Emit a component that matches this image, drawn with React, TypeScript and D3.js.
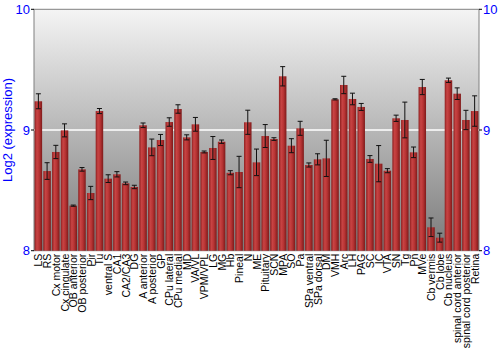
import React from "react";
import * as d3 from "d3";

const categories = ["LS","RS","Cx motor","Cx cingulate","OB anterior","OB posterior","Pir","Tu","ventral S","CA1","CA2/CA3","DG","A anterior","A posterior","GP","CPu lateral","CPu medial","MD","VA/VL","VPM/VPL","LG","MG","Hb","Pineal","N","ME","Pituitary","SCN","MPA","SO","Pa","SPa ventral","SPa dorsal","DM","VMH","Arc","LH","PAG","SC","IC","VTA","SN","Tg","Pn","MVe","Cb vermis","Cb lobe","Cb nucleus","spinal cord anterior","spinal cord posterior","Retina"];

const values = [9.238,8.66,8.818,8.997,8.373,8.674,8.478,9.157,8.597,8.633,8.558,8.528,9.039,8.856,8.917,9.066,9.174,8.939,9.047,8.818,8.851,8.903,8.646,8.652,9.064,8.732,8.95,8.925,9.445,8.87,9.014,8.71,8.757,8.765,9.254,9.373,9.257,9.191,8.76,8.721,8.663,9.097,9.083,8.815,9.356,8.194,8.108,9.412,9.301,9.083,9.157];

const errors = [0.062,0.069,0.055,0.054,0.005,0.015,0.055,0.021,0.032,0.022,0.011,0.014,0.019,0.069,0.046,0.035,0.035,0.021,0.057,0.008,0.095,0.014,0.017,0.13,0.1,0.11,0.095,0.011,0.08,0.058,0.058,0.017,0.046,0.15,0.005,0.072,0.048,0.029,0.028,0.15,0.017,0.026,0.148,0.044,0.063,0.077,0.037,0.018,0.048,0.08,0.126];

const yTicks = [8, 9, 10];

export default function App() {
  const W = 500, H = 350;
  const left = 34, right = 479, top = 9.3, bottom = 250.7;
  const x = d3.scaleBand<string>().domain(categories).range([left, right]).paddingInner(0.14).paddingOuter(0.07);
  const y = d3.scaleLinear().domain([8, 10]).range([bottom, top]);
  const font = "Liberation Sans, Arial, sans-serif";
  return (
    <svg width={W} height={H} style={{ position: "absolute", left: 0, top: 0 }}>
      <defs>
        <linearGradient id="bg" x1="0" y1="0" x2="0" y2="1">
          <stop offset="0" stopColor="#f4f4f4" />
          <stop offset="1" stopColor="#7a7a7a" />
        </linearGradient>
        <linearGradient id="bar" x1="0" y1="0" x2="1" y2="0">
          <stop offset="0" stopColor="#8e1f1f" />
          <stop offset="0.3" stopColor="#c84444" />
          <stop offset="0.6" stopColor="#b83434" />
          <stop offset="1" stopColor="#7e1a1a" />
        </linearGradient>
      </defs>
      <rect x={left} y={top} width={right - left} height={bottom - top} fill="url(#bg)" stroke="#808080" strokeWidth={1} />
      <line x1={left} x2={right} y1={y(9)} y2={y(9)} stroke="#ffffff" strokeWidth={1.5} />
      {categories.map((c, i) => {
        const bx = x(c)!;
        const bw = x.bandwidth();
        const v = values[i];
        const e = errors[i];
        const cx = bx + bw / 2;
        return (
          <g key={c}>
            <rect x={bx} y={y(v)} width={bw} height={y(8) - y(v)} fill="url(#bar)" />
            <line x1={cx} x2={cx} y1={y(v + e)} y2={y(v - e)} stroke="#111" strokeWidth={1} />
            <line x1={cx - 2.5} x2={cx + 2.5} y1={y(v + e)} y2={y(v + e)} stroke="#111" strokeWidth={1} />
            <line x1={cx - 2.5} x2={cx + 2.5} y1={y(v - e)} y2={y(v - e)} stroke="#111" strokeWidth={1} />
            <text transform={`translate(${cx + 4},${bottom + 3}) rotate(-90)`} textAnchor="end" fontFamily={font} fontSize={10.5} fill="#000">{c}</text>
          </g>
        );
      })}
      {yTicks.map((t) => (
        <g key={t}>
          <line x1={left - 3} x2={left} y1={y(t)} y2={y(t)} stroke="#000" />
          <text x={left - 4} y={y(t) + 4.5} textAnchor="end" fontFamily={font} fontSize={13} fill="#0000ff">{t}</text>
          <line x1={right} x2={right + 3} y1={y(t)} y2={y(t)} stroke="#000" />
          <text x={right + 4} y={y(t) + 4.5} textAnchor="start" fontFamily={font} fontSize={13} fill="#0000ff">{t}</text>
        </g>
      ))}
      <text transform={`translate(12,${(top + bottom) / 2}) rotate(-90)`} textAnchor="middle" fontFamily={font} fontSize={13} fill="#0000ff">Log2 (expression)</text>
    </svg>
  );
}
